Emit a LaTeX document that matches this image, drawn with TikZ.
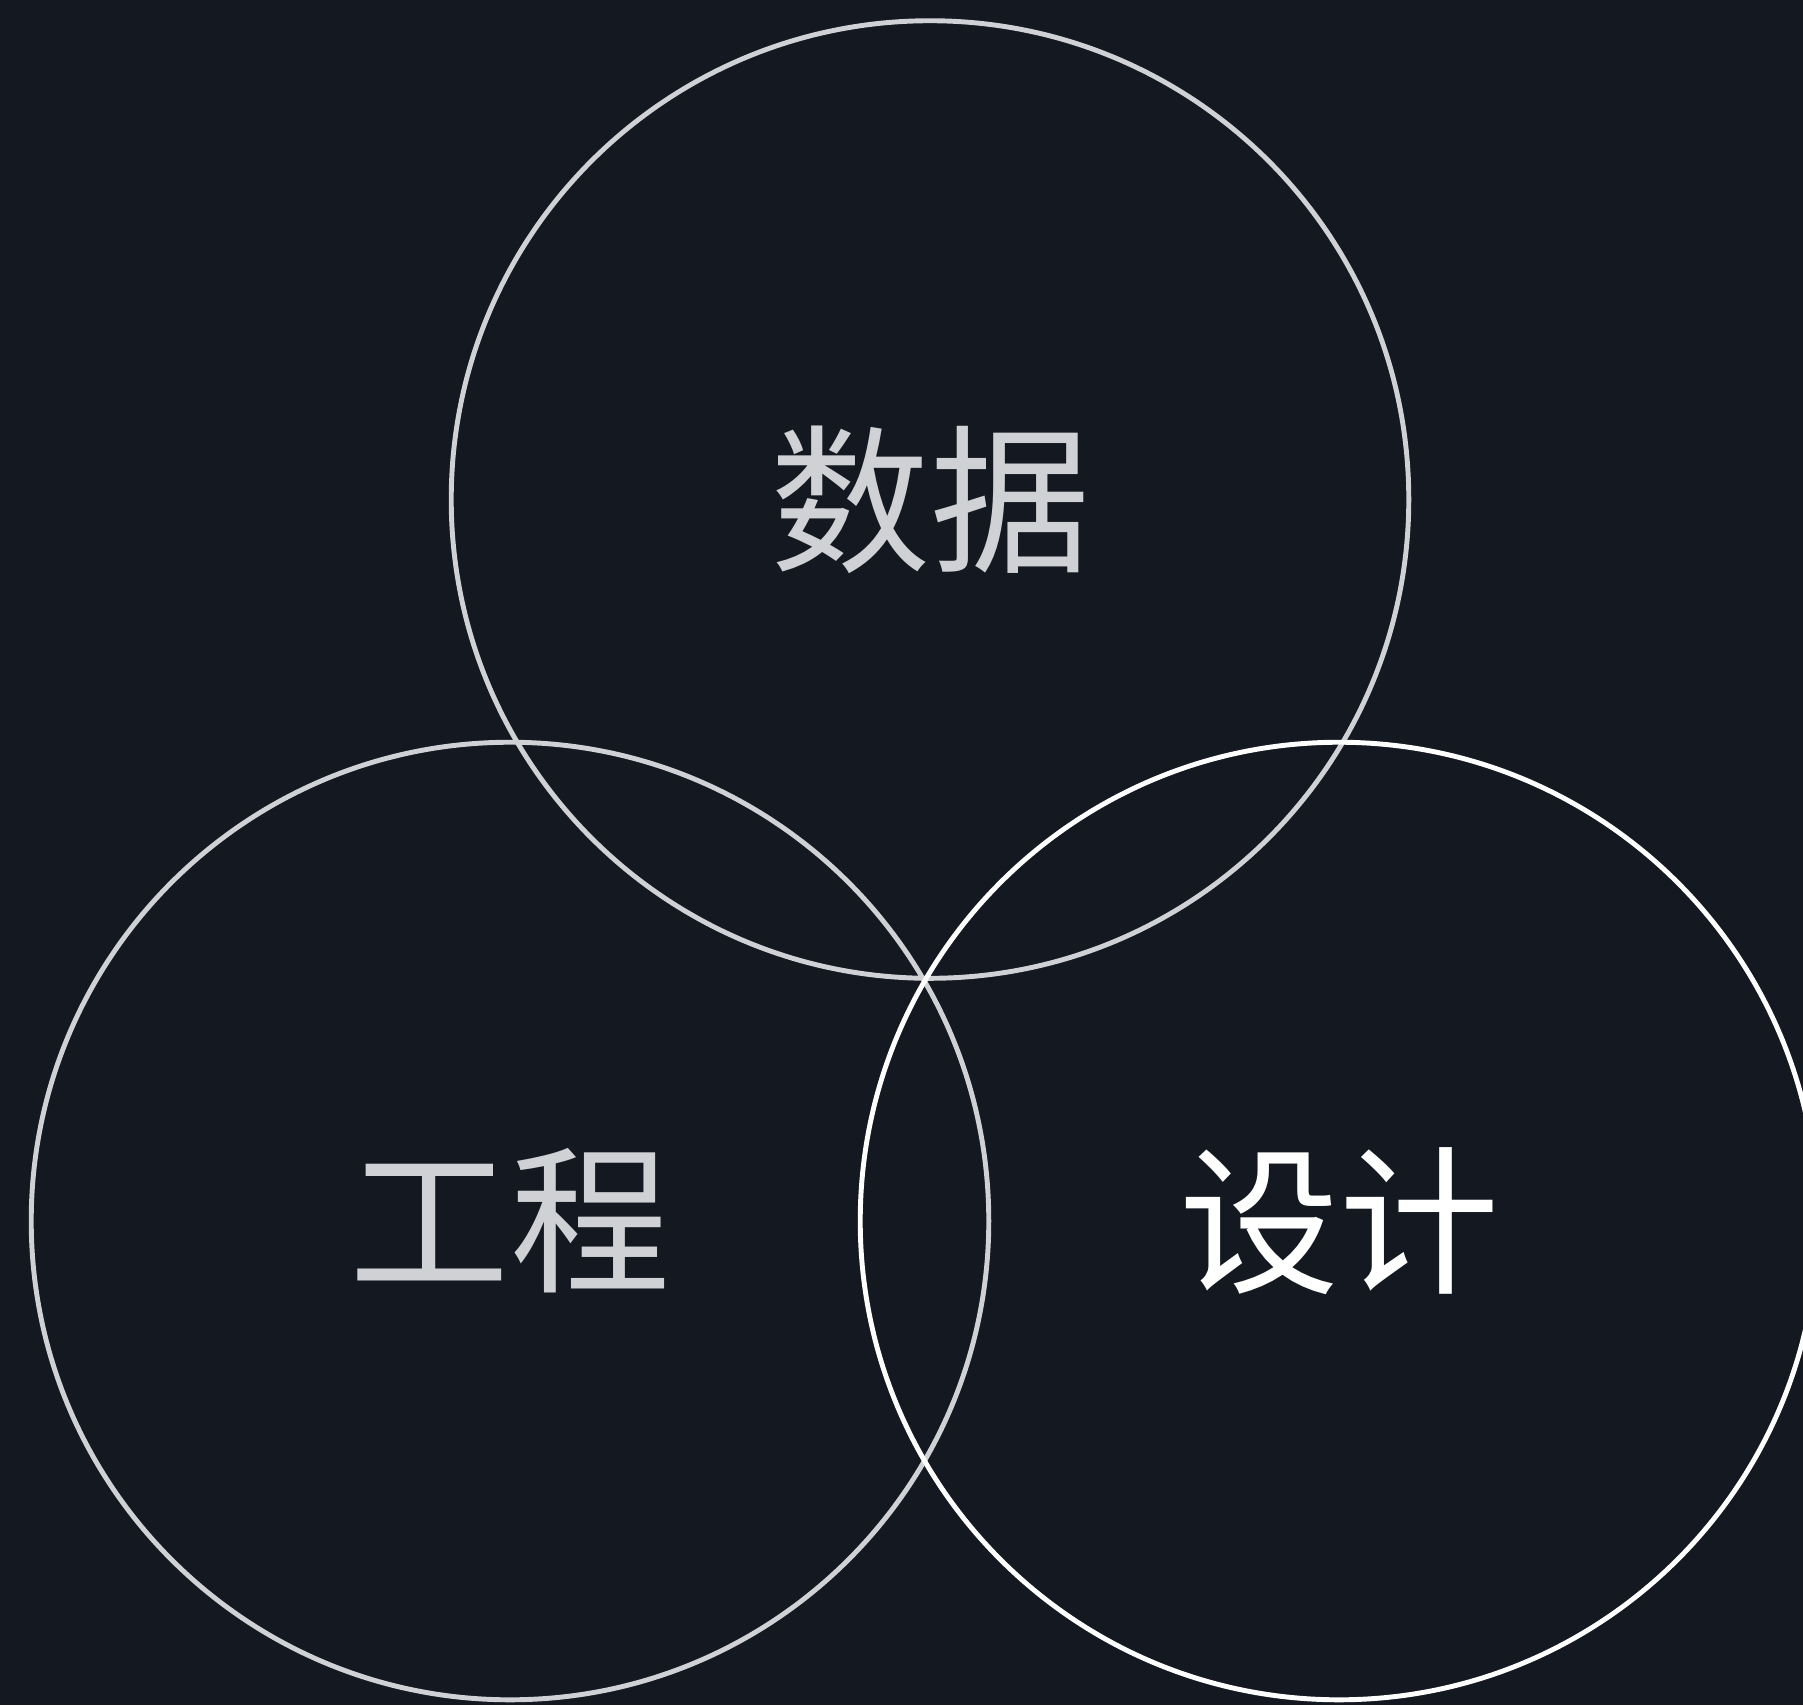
\documentclass[tikz,border=0pt]{standalone}
\usepackage{fontspec}
\newfontfamily\cjk{Noto Sans CJK SC}
\definecolor{bgc}{HTML}{131821}
\definecolor{greyline}{HTML}{D0D1D4}
\begin{document}
\begin{tikzpicture}[x=0.01cm,y=-0.01cm,
  ring/.style={circle,draw,line width=1.4pt,minimum size=9.57cm,inner sep=0pt,
    font=\cjk\fontsize{45.5}{50}\selectfont},
  greyring/.style={ring,draw=greyline,text=greyline},
  whitering/.style={ring,draw=white,text=white}]
\useasboundingbox (0,0) rectangle (1803,1705);
\clip (0,0) rectangle (1803,1705);
\fill[bgc] (0,0) rectangle (1803,1705);
\node[greyring] (data) at (930,499.5) {数据};
\node[greyring] (eng) at (510,1221) {工程};
\node[whitering] (design) at (1339,1221) {设计};
\end{tikzpicture}
\end{document}
